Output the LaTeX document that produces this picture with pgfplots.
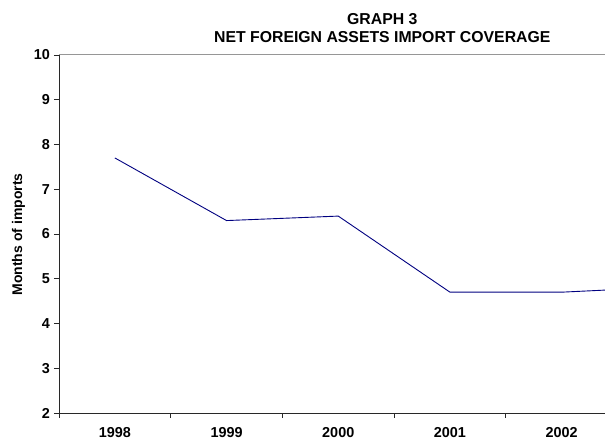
\documentclass[border=0pt]{standalone}
\usepackage{fontspec}
\setmainfont{Liberation Sans}
\usepackage{pgfplots}
\pgfplotsset{compat=1.18}
\definecolor{seriesblue}{RGB}{0,0,128}
\definecolor{framegray}{RGB}{150,150,150}
\definecolor{axisdark}{RGB}{40,40,40}
\begin{document}
\begin{tikzpicture}[x=1pt,y=1pt]
\useasboundingbox (-59,-28) rectangle (546,413);
\begin{axis}[
  name=ax,
  at={(0,0)}, anchor=south west,
  scale only axis, width=546pt, height=358pt,
  xmin=-0.5, xmax=4.388, ymin=2, ymax=10,
  axis x line*=bottom, axis y line*=left,
  axis line style={axisdark, line width=0.8pt},
  tick align=outside,
  major tick length=5pt,
  tick style={axisdark, line width=0.8pt},
  % ticks mark the category boundaries, names sit between them
  xtick={-0.5,0.5,1.5,2.5,3.5},
  xticklabels={1998,1999,2000,2001,2002},
  xticklabel style={anchor=base, xshift=55.85pt, yshift=-20pt},
  ytick={2,3,4,5,6,7,8,9,10},
  yticklabel style={xshift=-0.5pt},
  /pgf/number format/assume math mode=true,
  ticklabel style={font=\fontsize{14.4}{16}\selectfont\bfseries},
  clip=true,
]
\addplot[seriesblue, line width=0.9pt] coordinates {
  (0,7.7) (1,6.3) (2,6.4) (3,4.7) (4,4.7) (5,4.82)
};
\end{axis}
\draw[framegray, line width=1pt] (ax.north west) -- (ax.north east);
\node[rotate=90, font=\fontsize{14}{16}\selectfont\bfseries, anchor=center] at (-40.5,178.5) {Months of imports};
\node[font=\fontsize{15.8}{18}\selectfont\bfseries, anchor=base] at (323.3,388.7) {GRAPH 3};
\node[font=\fontsize{15.8}{18}\selectfont\bfseries, anchor=base] at (323.3,370.3) {NET FOREIGN ASSETS IMPORT COVERAGE};
\end{tikzpicture}
\end{document}
